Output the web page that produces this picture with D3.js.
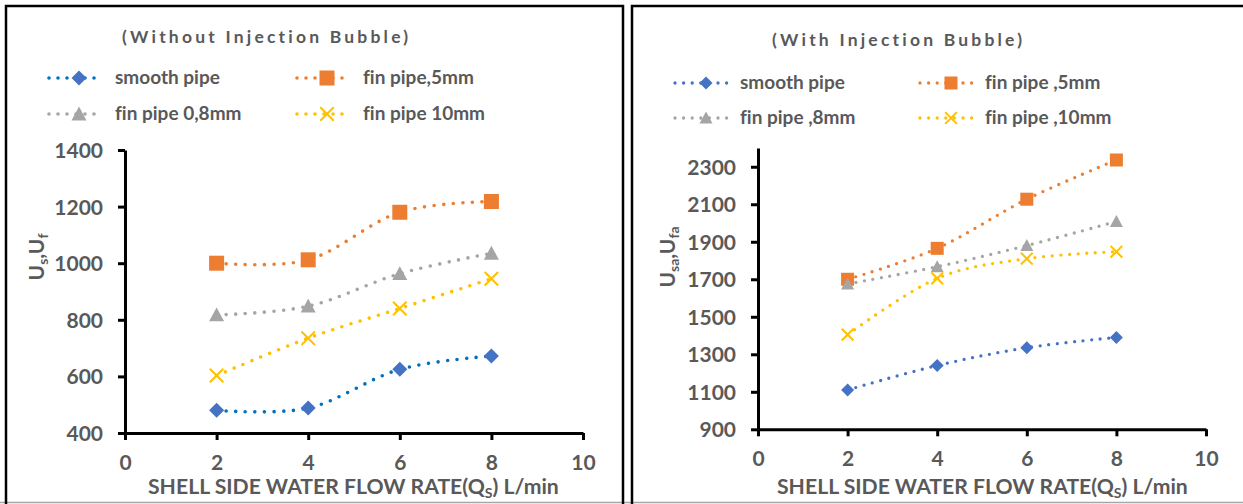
<!DOCTYPE html>
<html>
<head>
<meta charset="utf-8">
<script src="https://cdn.jsdelivr.net/npm/d3@7"></script>
<style>
  html, body { margin: 0; padding: 0; background: #fff; }
  svg { display: block; font-family: Lato, "Open Sans", sans-serif; font-variant-ligatures: none; }
</style>
</head>
<body>
<svg id="chart" width="1243" height="504"></svg>
<script>
// Shell-side water flow rate, L/min
const flowRates = [2, 4, 6, 8];
const xTickValues = [0, 2, 4, 6, 8, 10];

// Overall heat transfer coefficient without injected bubbles
const smoothNoBubble = [480, 488, 625, 672];
const fin5NoBubble   = [1000, 1012, 1180, 1218];
const fin8NoBubble   = [817, 848, 963, 1035];
const fin10NoBubble  = [603, 735, 840, 945];
const yTicksNoBubble = [400, 600, 800, 1000, 1200, 1400];
const namesNoBubble  = ["smooth pipe", "fin pipe,5mm", "fin pipe 0,8mm", "fin pipe 10mm"];

// Overall heat transfer coefficient with injected bubbles
const smoothBubble = [1110, 1240, 1335, 1390];
const fin5Bubble   = [1700, 1865, 2127, 2336];
const fin8Bubble   = [1675, 1767, 1880, 2008];
const fin10Bubble  = [1405, 1705, 1810, 1847];
const yTicksBubble = [900, 1100, 1300, 1500, 1700, 1900, 2100, 2300];
const namesBubble  = ["smooth pipe", "fin pipe ,5mm", "fin pipe ,8mm", "fin pipe ,10mm"];

const TEXT = "#595959";
const BLUE = "#4472C4", ORANGE = "#ED7D31", GRAY = "#A5A5A5", GOLD = "#FFC000";

const svg = d3.select("#chart");

// panel frames
svg.append("line").attr("x1", 0).attr("x2", 1243).attr("y1", 502.5).attr("y2", 502.5)
  .attr("stroke", "#a6a6a6").attr("stroke-width", 1.5);
svg.append("path").attr("d", "M6,504 V6 H623 V504").attr("fill", "none")
  .attr("stroke", "#000").attr("stroke-width", 2.5);
svg.append("path").attr("d", "M632,504 V6 H1243").attr("fill", "none")
  .attr("stroke", "#000").attr("stroke-width", 2.5);

function marker(g, type, x, y, size, color) {
  const h = size / 2;
  if (type === "square") {
    g.append("rect").attr("x", x - h).attr("y", y - h).attr("width", size).attr("height", size)
      .attr("fill", color);
  } else if (type === "diamond") {
    g.append("path").attr("d", `M${x},${y - h}L${x + h},${y}L${x},${y + h}L${x - h},${y}Z`)
      .attr("fill", color);
  } else if (type === "triangle") {
    g.append("path").attr("d", `M${x},${y - h}L${x + h},${y + h * 0.85}L${x - h},${y + h * 0.85}Z`)
      .attr("fill", color);
  } else {
    const k = h * 0.9;
    g.append("path").attr("d", `M${x - k},${y - k}L${x + k},${y + k}M${x - k},${y + k}L${x + k},${y - k}`)
      .attr("stroke", color).attr("stroke-width", 2).attr("fill", "none");
  }
}

function panel(cfg) {
  const g = svg.append("g");
  const x = d3.scaleLinear().domain([0, 10]).range(cfg.xRange);
  const y = d3.scaleLinear().domain(cfg.yDomain).range(cfg.yRange);

  // title
  g.append("text").attr("x", cfg.titleX).attr("y", cfg.titleY)
    .attr("fill", TEXT).attr("font-size", 17.5).attr("font-weight", 700)
    .attr("letter-spacing", 3.2).text(cfg.title);

  // legend
  cfg.series.forEach((s, i) => {
    const col = i % 2, row = Math.floor(i / 2);
    const lx = cfg.legendX[col], ly = cfg.legendY[row];
    g.append("line").attr("x1", lx).attr("x2", lx + cfg.legendLine).attr("y1", ly).attr("y2", ly)
      .attr("stroke", s.lineColor).attr("stroke-width", cfg.dotW)
      .attr("stroke-linecap", "round").attr("stroke-dasharray", `0 ${cfg.legendGap}`);
    marker(g, s.marker, lx + cfg.legendMark, ly, cfg.markSize, s.color);
    g.append("text").attr("x", lx + cfg.legendText).attr("y", ly + 6)
      .attr("fill", TEXT).attr("font-size", 19).attr("font-weight", 700).text(s.name);
  });

  // axes
  const yAxis = g.append("g").attr("transform", `translate(${cfg.xRange[0]},0)`)
    .call(d3.axisLeft(y).tickValues(cfg.yTicks).tickFormat(d3.format("d"))
      .tickSize(7).tickPadding(15).tickSizeOuter(0));
  const xAxis = g.append("g").attr("transform", `translate(0,${cfg.yRange[0]})`)
    .call(d3.axisBottom(x).tickValues(xTickValues).tickFormat(d3.format("d"))
      .tickSize(7).tickPadding(15).tickSizeOuter(0));
  [yAxis, xAxis].forEach(a => {
    a.select(".domain").attr("stroke", "#000").attr("stroke-width", 3);
    a.selectAll(".tick line").attr("stroke", "#000").attr("stroke-width", 3);
    a.selectAll(".tick text").attr("fill", TEXT).attr("font-size", 21).attr("font-weight", 700)
      .attr("font-family", "Lato, sans-serif");
  });
  yAxis.selectAll(".tick text").attr("dy", "0.36em");

  // axis titles
  const yt = g.append("text").attr("transform", `translate(${cfg.yTitleX},${cfg.yTitleY}) rotate(-90)`)
    .attr("text-anchor", "middle").attr("fill", TEXT).attr("font-size", 21).attr("font-weight", 700);
  yt.append("tspan").text("U");
  yt.append("tspan").attr("font-size", 14).attr("dy", 4).text(cfg.sub1);
  yt.append("tspan").attr("dy", -4).text(",U");
  yt.append("tspan").attr("font-size", 14).attr("dy", 4).text(cfg.sub2);

  const xt = g.append("text").attr("x", cfg.xTitleX).attr("y", 494)
    .attr("fill", TEXT).attr("font-size", 21.2).attr("font-weight", 700);
  xt.append("tspan").text("SHELL SIDE WATER FLOW RATE(Q");
  xt.append("tspan").attr("font-size", 14).attr("dy", 4).text("S");
  xt.append("tspan").attr("dy", -4).text(") L/min");

  // series
  const line = d3.line().x((d, i) => x(flowRates[i])).y(d => y(d)).curve(d3.curveCatmullRom.alpha(0));
  cfg.series.forEach(s => {
    g.append("path").attr("d", line(s.values)).attr("fill", "none")
      .attr("stroke", s.lineColor).attr("stroke-width", cfg.dotW)
      .attr("stroke-linecap", "round").attr("stroke-dasharray", `0 ${cfg.dotGap}`);
  });
  cfg.series.forEach(s => {
    s.values.forEach((v, i) => marker(g, s.marker, x(flowRates[i]), y(v), cfg.markSize, s.color));
  });
}

panel({
  title: "(Without Injection Bubble)", titleX: 122, titleY: 43,
  xRange: [125, 583], yDomain: [400, 1400], yRange: [433, 150], yTicks: yTicksNoBubble,
  legendX: [49, 297], legendY: [78, 114], legendLine: 51, legendMark: 30, legendText: 66, legendGap: 9,
  dotW: 3.6, dotGap: 9.6, markSize: 15,
  yTitleX: 44, yTitleY: 257, sub1: "s", sub2: "f", xTitleX: 148,
  series: [
    { name: namesNoBubble[0], values: smoothNoBubble, color: BLUE, lineColor: "#0070C0", marker: "diamond" },
    { name: namesNoBubble[1], values: fin5NoBubble, color: ORANGE, lineColor: ORANGE, marker: "square" },
    { name: namesNoBubble[2], values: fin8NoBubble, color: GRAY, lineColor: GRAY, marker: "triangle" },
    { name: namesNoBubble[3], values: fin10NoBubble, color: GOLD, lineColor: GOLD, marker: "x" }
  ]
});

panel({
  title: "(With Injection Bubble)", titleX: 772, titleY: 46,
  xRange: [758, 1206], yDomain: [900, 2400], yRange: [429.3, 148], yTicks: yTicksBubble,
  legendX: [675, 920], legendY: [83, 118], legendLine: 52, legendMark: 31, legendText: 65, legendGap: 8.6,
  dotW: 3.3, dotGap: 8.6, markSize: 13,
  yTitleX: 675, yTitleY: 257, sub1: "sa", sub2: "fa", xTitleX: 777,
  series: [
    { name: namesBubble[0], values: smoothBubble, color: BLUE, lineColor: BLUE, marker: "diamond" },
    { name: namesBubble[1], values: fin5Bubble, color: ORANGE, lineColor: ORANGE, marker: "square" },
    { name: namesBubble[2], values: fin8Bubble, color: GRAY, lineColor: GRAY, marker: "triangle" },
    { name: namesBubble[3], values: fin10Bubble, color: GOLD, lineColor: GOLD, marker: "x" }
  ]
});
</script>
</body>
</html>
